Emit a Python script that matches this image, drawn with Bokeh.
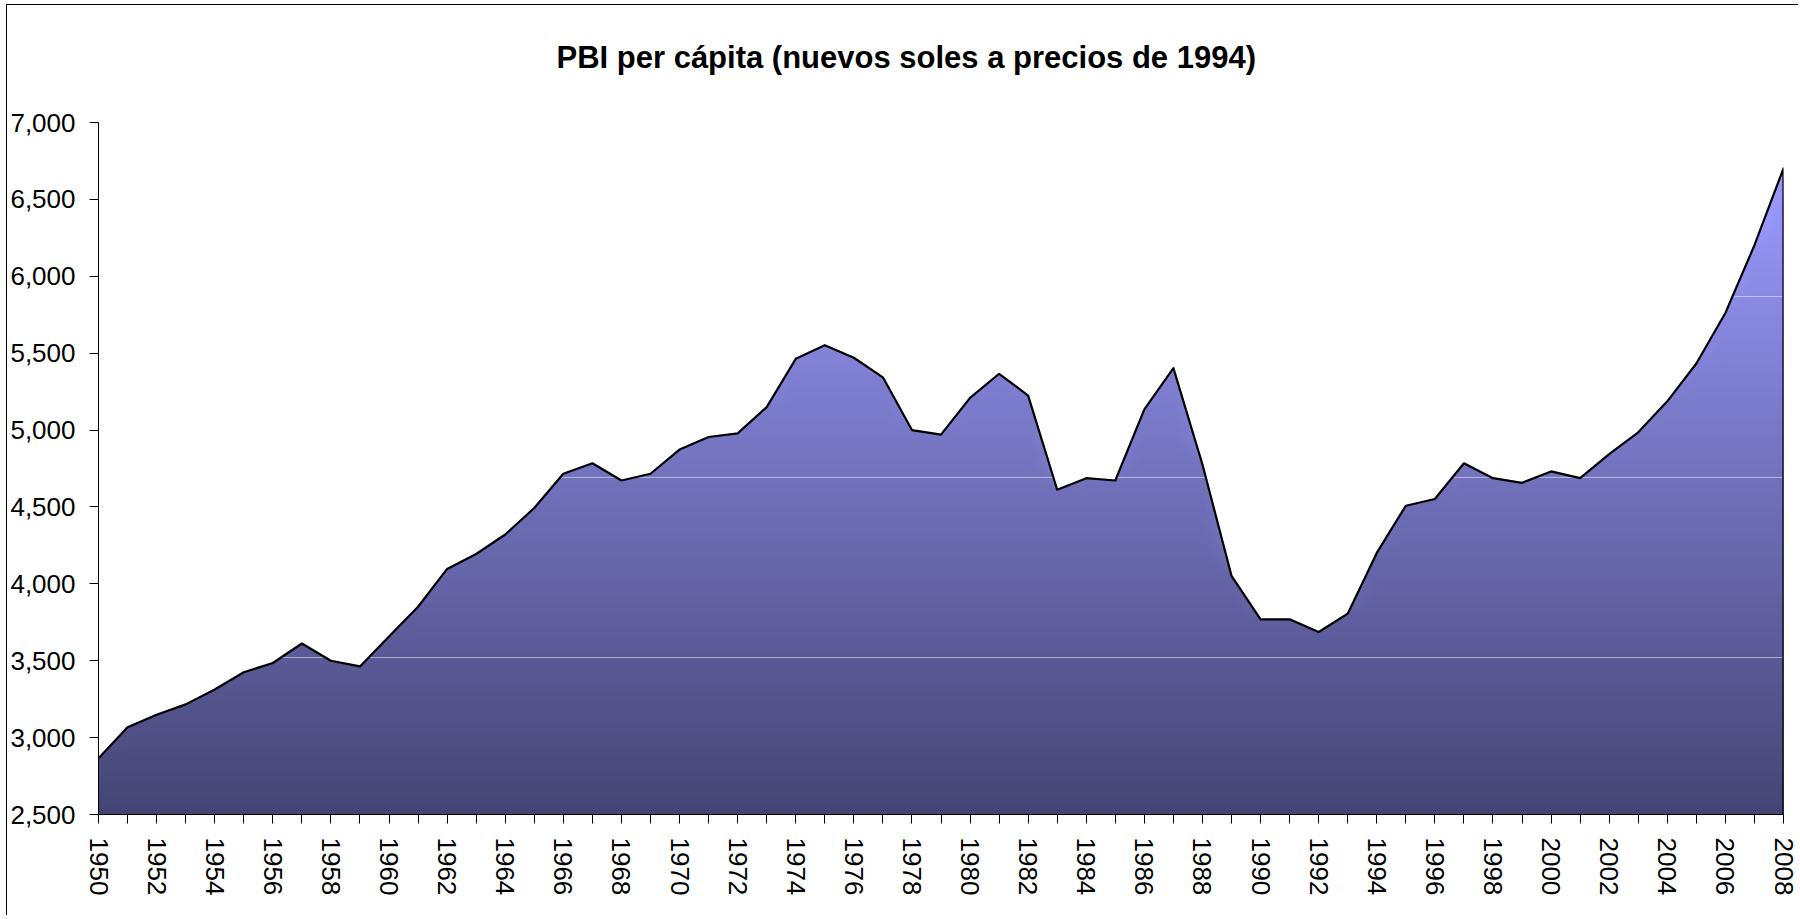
import math
import numpy as np
from bokeh.plotting import figure
from bokeh.models import FixedTicker, NumeralTickFormatter, Range1d
from bokeh.embed import file_html
from bokeh.resources import INLINE

# ---------------- data ----------------
years = list(range(1950, 2009))
pbi = [2866, 3067, 3149, 3216, 3313, 3425, 3485, 3612, 3500, 3463,
       3657, 3851, 4097, 4194, 4321, 4493, 4716, 4784, 4672, 4716,
       4873, 4955, 4978, 5149, 5463, 5552, 5470, 5343, 5000, 4970,
       5209, 5366, 5224, 4612, 4687, 4672, 5134, 5403, 4776, 4052,
       3769, 3769, 3687, 3806, 4201, 4508, 4552, 4784, 4687, 4657,
       4731, 4687, 4843, 4985, 5187, 5433, 5761, 6202, 6701]
title_text = "PBI per cápita (nuevos soles a precios de 1994)"
y_ticks = [2500, 3000, 3500, 4000, 4500, 5000, 5500, 6000, 6500, 7000]
label_years = years[::2]
band_levels = [3521, 4692, 5868]   # faint light lines of the gradient fill

# ---------------- layout ----------------
W, H = 1792, 911
BL, BR, BT, BB = 88, 16, 117, 102
FONT = "Liberation Sans"

p = figure(width=W, height=H, output_backend="svg", toolbar_location=None,
           x_range=Range1d(years[0], years[-1]), y_range=Range1d(y_ticks[0], y_ticks[-1]),
           min_border_left=BL, min_border_right=BR, min_border_top=BT, min_border_bottom=BB)
p.outline_line_color = None
p.xgrid.visible = False
p.ygrid.visible = False
p.background_fill_color = "white"
p.border_fill_color = "white"
p.styles = {"margin-left": "6px", "margin-top": "4px",
            "border-left": "1px solid black", "border-top": "1px solid black"}

# gradient fill made of stacked clipped areas
base = y_ticks[0]
top = max(pbi)
N = 140
c_bot = np.array([0x45, 0x45, 0x75], dtype=float)
c_top = np.array([0x9B, 0x9B, 0xFF], dtype=float)
pbi_arr = np.array(pbi, dtype=float)
h = (top - base) / N
for k in range(N - 1, -1, -1):
    lim = base + (k + 1) * h
    t = (k + 0.5) / N
    c = c_bot + (c_top - c_bot) * t
    col = "#%02x%02x%02x" % tuple(int(round(v)) for v in c)
    y2 = np.minimum(pbi_arr, lim + h * 0.6) if k < N - 1 else pbi_arr
    p.varea(x=years, y1=base, y2=y2, fill_color=col, fill_alpha=1.0)

# faint light lines inside the filled area
def segments(xs, ys, L):
    segs = []
    start = None
    for i in range(len(xs)):
        if ys[i] >= L and start is None:
            if i == 0:
                start = xs[0]
            else:
                start = xs[i - 1] + (L - ys[i - 1]) * (xs[i] - xs[i - 1]) / (ys[i] - ys[i - 1])
        elif ys[i] < L and start is not None:
            end = xs[i - 1] + (L - ys[i - 1]) * (xs[i] - xs[i - 1]) / (ys[i] - ys[i - 1])
            segs.append((start, end))
            start = None
    if start is not None:
        segs.append((start, xs[-1]))
    return segs

mx, my = [], []
for L in band_levels:
    for a, b in segments(years, pbi, L):
        mx.append([a, b])
        my.append([L, L])
p.multi_line(xs=mx, ys=my, line_color="white", line_alpha=0.5, line_width=1)

# outline of the series
p.line(x=years + [years[-1]], y=pbi + [base], line_color="black", line_width=2.2,
       line_join="round")

# axes
xa = p.xaxis[0]
xa.ticker = FixedTicker(ticks=years)
xa.major_label_overrides = {y: (str(y) if y in label_years else "") for y in years}
xa.major_label_orientation = -math.pi / 2
xa.minor_tick_line_color = None
xa.major_tick_in = 0
xa.major_tick_out = 9
xa.major_label_standoff = 14
xa.axis_line_color = "black"
xa.major_tick_line_color = "black"
xa.major_label_text_font = FONT
xa.major_label_text_font_size = "26px"
xa.major_label_text_color = "black"

ya = p.yaxis[0]
ya.ticker = FixedTicker(ticks=y_ticks)
ya.formatter = NumeralTickFormatter(format="0,0")
ya.minor_tick_line_color = None
ya.major_tick_in = 0
ya.major_tick_out = 9
ya.major_label_standoff = 14
ya.axis_line_color = "black"
ya.major_tick_line_color = "black"
ya.major_label_text_font = FONT
ya.major_label_text_font_size = "26px"
ya.major_label_text_color = "black"

# title (a trailing empty line lifts it away from the plot area)
p.title.text = title_text + "\n"
p.title.align = "left"
p.title.offset = 458
p.title.vertical_align = "top"
p.title.standoff = 22
p.title.text_font = FONT
p.title.text_font_style = "bold"
p.title.text_font_size = "31px"
p.title.text_color = "black"

open("out.html", "w").write(file_html(p, INLINE))
